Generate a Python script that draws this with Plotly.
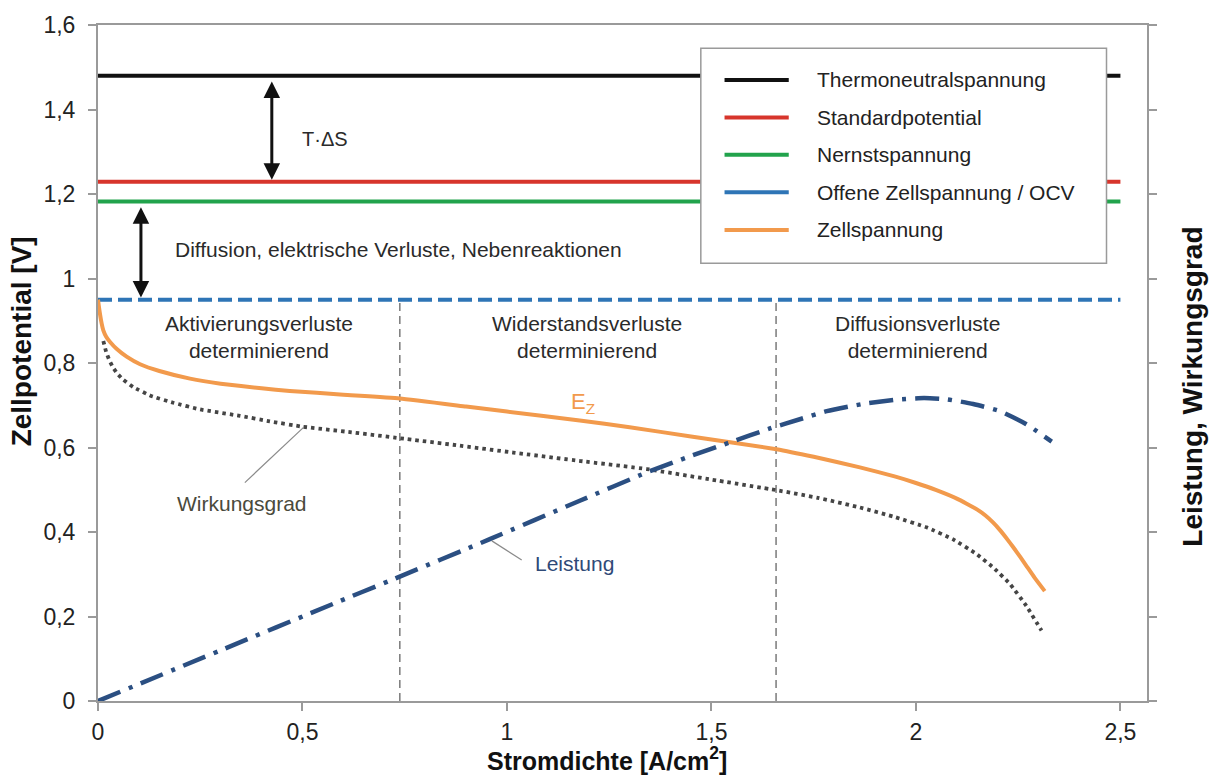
import plotly.graph_objects as go

# --- data -------------------------------------------------------------
X_END = 2.5
THERMONEUTRAL = 1.48
STANDARD = 1.229
NERNST = 1.182
OCV = 0.95

zell_x = [0, 0.002, 0.005, 0.009, 0.013, 0.02, 0.03, 0.046, 0.07, 0.103, 0.15, 0.225, 0.3,
          0.4, 0.469, 0.6, 0.738, 0.9, 1.0, 1.178, 1.3, 1.45, 1.659, 1.75, 1.863, 1.95,
          2.0, 2.05, 2.1, 2.124, 2.15, 2.17, 2.189, 2.205, 2.22, 2.238, 2.255, 2.27, 2.29,
          2.315]
zell_y = [0.950, 0.935, 0.915, 0.893, 0.877, 0.862, 0.849, 0.833, 0.815, 0.797, 0.781,
          0.763, 0.751, 0.740, 0.734, 0.725, 0.716, 0.697, 0.685, 0.664, 0.648, 0.626,
          0.596, 0.578, 0.553, 0.531, 0.516, 0.499, 0.479, 0.467, 0.453, 0.439, 0.422,
          0.405, 0.387, 0.364, 0.341, 0.320, 0.292, 0.260]

wirk_x = [0.013, 0.02, 0.028, 0.037, 0.048, 0.06, 0.086, 0.13, 0.184, 0.25, 0.347, 0.42,
          0.502, 0.62, 0.738, 0.88, 1.015, 1.18, 1.342, 1.5, 1.659, 1.76, 1.863, 1.95,
          2.026, 2.09, 2.148, 2.19, 2.23, 2.27, 2.307]
wirk_y = [0.852, 0.826, 0.806, 0.789, 0.774, 0.762, 0.743, 0.722, 0.706, 0.690, 0.675,
          0.662, 0.649, 0.636, 0.622, 0.605, 0.588, 0.568, 0.549, 0.524, 0.499, 0.481,
          0.458, 0.435, 0.411, 0.383, 0.348, 0.315, 0.277, 0.225, 0.167]

leist_x = [0, 0.3, 0.575, 0.714, 0.958, 1.178, 1.342, 1.45, 1.545, 1.643, 1.72, 1.782,
           1.87, 1.961, 2.02, 2.075, 2.14, 2.205, 2.27, 2.332]
leist_y = [0, 0.120, 0.230, 0.285, 0.383, 0.474, 0.541, 0.580, 0.612, 0.645, 0.668, 0.686,
           0.703, 0.714, 0.717, 0.714, 0.703, 0.686, 0.655, 0.614]

region_bounds = [0.738, 1.658]

legend_names = ["Thermoneutralspannung", "Standardpotential", "Nernstspannung",
                "Offene Zellspannung / OCV", "Zellspannung"]

# --- styling ----------------------------------------------------------
FONT = "Liberation Sans, Arial, sans-serif"
C_BLACK = "#111111"
C_RED = "#d7352c"
C_GREEN = "#22a34c"
C_BLUE = "#2e75b6"
C_ORANGE = "#f29a4c"
C_LEIST = "#2b4f82"
C_WIRK = "#454545"
AXIS_GRAY = "#9a9a9a"

fig = go.Figure()

def hline(y, color, dash="solid"):
    fig.add_trace(go.Scatter(x=[0, X_END], y=[y, y], mode="lines",
                             line=dict(color=color, width=4, dash=dash),
                             hoverinfo="skip", showlegend=False))

hline(THERMONEUTRAL, C_BLACK)
hline(STANDARD, C_RED)
hline(NERNST, C_GREEN)
hline(OCV, C_BLUE, "14px,6px")

fig.add_trace(go.Scatter(x=zell_x, y=zell_y, mode="lines", name="Zellspannung",
                         line=dict(color=C_ORANGE, width=4, shape="spline", smoothing=0.4),
                         showlegend=False))
fig.add_trace(go.Scatter(x=wirk_x, y=wirk_y, mode="lines", name="Wirkungsgrad", yaxis="y2",
                         line=dict(color=C_WIRK, width=3.8, dash="3.5px,4px",
                                   shape="spline", smoothing=0.3),
                         showlegend=False))
fig.add_trace(go.Scatter(x=leist_x, y=leist_y, mode="lines", name="Leistung", yaxis="y2",
                         line=dict(color=C_LEIST, width=4.5, dash="24px,9px,4px,9px",
                                   shape="spline", smoothing=0.5),
                         showlegend=False))

shapes = []
# region boundaries
for xb in region_bounds:
    shapes.append(dict(type="line", xref="x", yref="y", x0=xb, x1=xb, y0=0, y1=OCV,
                       line=dict(color="#7a7a7a", width=1.5, dash="8px,5px"), layer="below"))

# pointer lines for the curve labels
shapes.append(dict(type="line", xref="x", yref="y", x0=0.359, y0=0.517, x1=0.502, y1=0.647,
                   line=dict(color="#8a8a8a", width=1.2)))
shapes.append(dict(type="line", xref="x", yref="y", x0=0.963, y0=0.379, x1=1.036, y1=0.334,
                   line=dict(color="#8a8a8a", width=1.2)))

# legend box
shapes.append(dict(type="rect", xref="x", yref="y", x0=1.474, x1=2.466, y0=1.036, y1=1.545,
                   line=dict(color="#9a9a9a", width=1.5), fillcolor="white", layer="above"))
legend_colors = [C_BLACK, C_RED, C_GREEN, C_BLUE, C_ORANGE]
legend_rows = [1.470, 1.381, 1.293, 1.204, 1.115]
for col, yr in zip(legend_colors, legend_rows):
    shapes.append(dict(type="line", xref="x", yref="y", x0=1.532, x1=1.689, y0=yr, y1=yr,
                       line=dict(color=col, width=4), layer="above"))

annotations = []
for name, yr in zip(legend_names, legend_rows):
    annotations.append(dict(x=1.753, y=yr, xref="x", yref="y", text=name, showarrow=False,
                            xanchor="left", yanchor="middle",
                            font=dict(family=FONT, size=21, color="#222222")))

# double-headed arrows
def double_arrow(x, y_top, y_bot):
    annotations.append(dict(x=x, y=y_bot + 0.005, ax=x, ay=y_top - 0.01, xref="x", yref="y",
                            axref="x", ayref="y", text="", showarrow=True,
                            arrowhead=2, startarrowhead=2, arrowside="end+start",
                            arrowsize=1.1, startarrowsize=1.1, arrowwidth=3,
                            arrowcolor=C_BLACK))

double_arrow(0.425, THERMONEUTRAL, STANDARD)
double_arrow(0.105, NERNST, OCV)

def text(x, y, s, size=21, color="#2a2a2a", xanchor="center"):
    annotations.append(dict(x=x, y=y, xref="x", yref="y", text=s, showarrow=False,
                            xanchor=xanchor, yanchor="middle",
                            font=dict(family=FONT, size=size, color=color)))

text(0.494, 1.330, "T·ΔS", size=20, xanchor="left")
text(0.183, 1.068, "Diffusion, elektrische Verluste, Nebenreaktionen", xanchor="left")
text(0.394, 0.862, "Aktivierungsverluste<br>determinierend")
text(1.196, 0.862, "Widerstandsverluste<br>determinierend")
text(2.005, 0.862, "Diffusionsverluste<br>determinierend")
text(1.185, 0.705, "E<sub>Z</sub>", size=22, color=C_ORANGE)
text(0.351, 0.467, "Wirkungsgrad", color="#4a4a3c")
text(1.166, 0.325, "Leistung", color="#2f4a78")

# axis titles
title_font = dict(family=FONT, size=28, color="#111111")
annotations.append(dict(x=-77 / 1049, y=0.532, xref="paper", yref="paper", textangle=-90,
                        xanchor="center", yanchor="middle",
                        text="<b>Zellpotential [V]</b>", showarrow=False, font=title_font))
annotations.append(dict(x=1.0 + 46 / 1049, y=0.465, xref="paper", yref="paper", textangle=-90,
                        xanchor="center", yanchor="middle",
                        text="<b>Leistung, Wirkungsgrad</b>", showarrow=False, font=title_font))
annotations.append(dict(x=(607 - 98) / 1049, y=-58 / 678, xref="paper", yref="paper",
                        xanchor="center", yanchor="middle",
                        text="<b>Stromdichte [A/cm<sup>2</sup>]</b>", showarrow=False,
                        font=dict(family=FONT, size=25, color="#111111")))

axis_common = dict(showgrid=False, zeroline=False, showline=True, linecolor=AXIS_GRAY,
                   linewidth=2, ticks="outside", ticklen=8, tickwidth=1.5, tickcolor=AXIS_GRAY,
                   tickfont=dict(family=FONT, size=23, color="#222222"))

fig.update_layout(
    width=1210, height=778,
    margin=dict(l=98, r=63, t=23, b=77),
    paper_bgcolor="white", plot_bgcolor="white",
    separators=",.",
    showlegend=False,
    xaxis=dict(range=[0, 2.565], tick0=0, dtick=0.5, mirror=True,
               ticklabelstandoff=1, **axis_common),
    yaxis=dict(range=[0, 1.6], tick0=0, dtick=0.2, ticklabelstandoff=8, **axis_common),
    yaxis2=dict(range=[0, 1.6], tick0=0, dtick=0.2, overlaying="y", side="right",
                showticklabels=False, **axis_common),
    shapes=shapes,
    annotations=annotations,
)

fig.write_html("out.html")
